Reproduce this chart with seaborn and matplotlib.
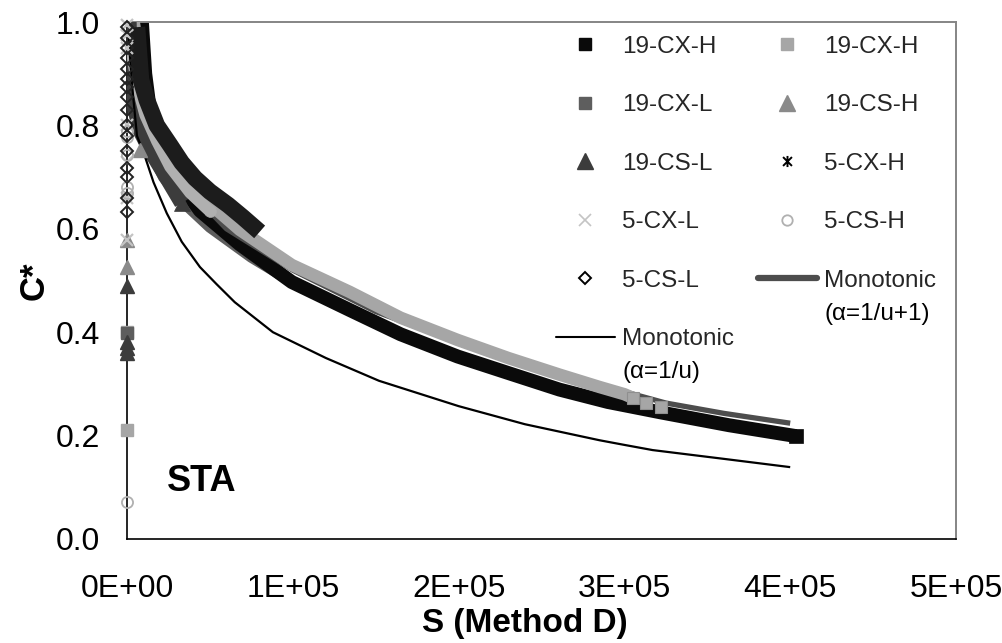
import matplotlib
matplotlib.use("Agg")
import matplotlib.pyplot as plt
from matplotlib.lines import Line2D
from matplotlib.path import Path
import seaborn as sns

sns.set_theme(style="white")
plt.rcParams['font.family'] = ['Liberation Sans', 'DejaVu Sans']

# ---------------- data ----------------
x_ticks = [0, 100000, 200000, 300000, 400000, 500000]
x_tick_labels = ["0E+00", "1E+05", "2E+05", "3E+05", "4E+05", "5E+05"]
y_ticks = [0.0, 0.2, 0.4, 0.6, 0.8, 1.0]
y_tick_labels = ["0.0", "0.2", "0.4", "0.6", "0.8", "1.0"]

# 19-CX-H (black squares) - long band
cxh_black_s = [9e3, 1.1e4, 1.5e4, 2.5e4, 4.4e4, 6.8e4, 9.94e4, 1.343e5, 1.65e5, 1.994e5, 2.3e5, 2.608e5, 2.9e5, 3.217e5, 3.632e5, 4.036e5]
cxh_black_c = [1.0, 0.90, 0.80, 0.72, 0.635, 0.57, 0.497, 0.443, 0.396, 0.353, 0.321, 0.289, 0.265, 0.245, 0.220, 0.199]

# 19-CX-H (grey squares)
cxh_grey_s = [0, 0, 4e3, 7.8e3, 1.08e4, 2.0e4, 3.2e4, 4.4e4, 6.8e4, 9.94e4, 1.343e5, 1.65e5, 1.994e5, 2.3e5, 2.608e5, 2.85e5, 3.0e5, 3.05e5, 3.13e5, 3.22e5]
cxh_grey_c = [0.211, 0.40, 1.0, 0.927, 0.83, 0.752, 0.704, 0.665, 0.598, 0.530, 0.478, 0.428, 0.385, 0.350, 0.318, 0.294, 0.280, 0.273, 0.263, 0.255]

# 19-CX-L (dark grey squares)
cxl_s = [0, 1.5e3, 4e3, 1e4, 2.2e4, 3.6e4, 5e4, 7.5e4, 1.05e5]
cxl_c = [0.398, 0.95, 0.86, 0.78, 0.70, 0.645, 0.603, 0.545, 0.487]

# 19-CS-H (grey triangles)
csh_s = [0, 0, 8e3]
csh_c = [0.526, 0.578, 0.752]

# 19-CS-L (dark triangles)
csl_s = [0, 0, 0, 0, 1.2e3, 1.8e3, 3.6e3, 7.8e3, 1.4e4, 2.3e4, 3.3e4]
csl_c = [0.49, 0.382, 0.37, 0.36, 1.0, 0.927, 0.849, 0.791, 0.752, 0.704, 0.65]

# 5-CX-H (black asterisks)
c5xh_s = [6e3, 8.4e3, 1.2e4, 1.8e4, 2.6e4, 3.3e4, 4.1e4, 5.0e4, 6.1e4, 7.0e4, 8.0e4]
c5xh_c = [0.99, 0.888, 0.849, 0.80, 0.762, 0.728, 0.698, 0.672, 0.646, 0.622, 0.594]

# 5-CX-L (light grey crosses)
c5xl_s = [0, 0, 0, 0, 0, 0, 0]
c5xl_c = [0.578, 0.66, 0.73, 0.80, 0.95, 0.975, 0.995]

# 5-CS-H (light grey open circles)
c5sh_pts_s = [0, 0, 0, 0, 0, 0]
c5sh_pts_c = [0.071, 0.67, 0.68, 0.743, 0.778, 0.79]
c5sh_band_s = [2.5e3, 6e3, 1.1e4, 1.8e4, 2.6e4, 3.8e4, 5.0e4]
c5sh_band_c = [0.95, 0.88, 0.82, 0.77, 0.72, 0.67, 0.634]

# 5-CS-L (open diamonds)
c5sl_s = [0] * 16
c5sl_c = [0.633, 0.66, 0.70, 0.717, 0.75, 0.78, 0.80, 0.83, 0.855, 0.875, 0.89, 0.91, 0.93, 0.95, 0.97, 0.99]

# Monotonic (alpha = 1/u + 1)
mono1_s = [3e3, 1e4, 3e4, 6e4, 1e5, 1.5e5, 2e5, 2.6e5, 3.25e5, 3.6e5, 4.0e5]
mono1_c = [0.95, 0.85, 0.70, 0.60, 0.52, 0.44, 0.38, 0.32, 0.263, 0.243, 0.224]

# Monotonic (alpha = 1/u)
mono2_s = [1e3, 3e3, 6e3, 1.08e4, 1.6e4, 2.4e4, 3.3e4, 4.4e4, 5.4e4, 6.5e4, 8.8e4, 1.2e5, 1.52e5, 2.0e5, 2.4e5, 2.85e5, 3.0e5, 3.17e5, 3.6e5, 4.0e5]
mono2_c = [0.97, 0.88, 0.78, 0.74, 0.69, 0.63, 0.575, 0.526, 0.493, 0.458, 0.400, 0.350, 0.306, 0.257, 0.222, 0.191, 0.182, 0.172, 0.155, 0.139]

labels = ["19-CX-H", "19-CX-H", "19-CX-L", "19-CS-H", "19-CS-L", "5-CX-H",
          "5-CX-L", "5-CS-H", "5-CS-L", "Monotonic", "Monotonic"]
second_lines = ["(α=1/u+1)", "(α=1/u)"]

# ---------------- styles ----------------
C_BLACK = "#0a0a0a"
C_GREY = "#a6a6a6"
C_CXL = "#5e5e5e"
C_CSH = "#8a8a8a"
C_CSL = "#3c3c3c"
C_5XH = "#1c1c1c"
C_5XL = "#c4c4c4"
C_5SH = "#b0b0b0"
C_MONO1 = "#4d4d4d"

ast = Path([(-1, -1), (1, 1), (-1, 1), (1, -1), (0, -1.25), (0, 1.25)],
           [Path.MOVETO, Path.LINETO, Path.MOVETO, Path.LINETO, Path.MOVETO, Path.LINETO])

W, H = 1003, 643
fig, ax = plt.subplots(figsize=(W / 100, H / 100), dpi=100)
fig.subplots_adjust(left=127 / W, right=956 / W, bottom=(H - 539) / H, top=(H - 22) / H)


def band(xs, ys, color, lw, marker, ms, z, every=None):
    sns.lineplot(x=xs, y=ys, ax=ax, color=color, linewidth=lw, marker=marker,
                 markersize=ms, mec=color, mfc=color, mew=0.5, sort=False,
                 markevery=every, estimator=None, legend=False, zorder=z,
                 solid_capstyle="butt", solid_joinstyle="round")


def pts(xs, ys, color, marker, ms, z, mfc=None, mew=1.0, mec=None, clip=False):
    sns.lineplot(x=xs, y=ys, ax=ax, color=color, linestyle="", marker=marker,
                 markersize=ms, mec=color if mec is None else mec,
                 mfc=color if mfc is None else mfc,
                 mew=mew, sort=False, estimator=None, legend=False, zorder=z,
                 clip_on=clip)


band(cxl_s[1:], cxl_c[1:], C_CXL, 8.0, None, 0, 1.9)
band(cxh_black_s, cxh_black_c, C_BLACK, 10, "s", 10, 2, every=[-1])
band(mono1_s, mono1_c, C_MONO1, 3.8, None, 0, 2.5)
band(cxh_grey_s[2:-2], cxh_grey_c[2:-2], C_GREY, 9.0, None, 0, 3)
pts(cxh_grey_s[-3:], cxh_grey_c[-3:], C_GREY, "s", 9.0, 3.1, mec="#8f8f8f", mew=0.8, clip=True)
band(csl_s[4:], csl_c[4:], C_CSL, 11, "^", 12, 4, every=[-1])
band(c5sh_band_s, c5sh_band_c, C_5SH, 8.5, "o", 8.5, 4.5, every=[-1])
band(c5xh_s, c5xh_c, C_5XH, 12, None, 0, 5)
band(mono2_s, mono2_c, "black", 1.6, None, 0, 6)

pts(cxh_grey_s[:2], cxh_grey_c[:2], C_GREY, "s", 8.6, 7)
pts(cxl_s[:1], cxl_c[:1], C_CXL, "s", 8.6, 7)
pts(csh_s, csh_c, C_CSH, "^", 9.5, 7)
pts(csl_s[:4], csl_c[:4], C_CSL, "^", 9.5, 7)
pts(c5xl_s, c5xl_c, C_5XL, "x", 8, 7, mew=1.6)
pts(c5sh_pts_s, c5sh_pts_c, C_5SH, "o", 8, 7.5, mfc="none", mew=1.3)
pts(c5sl_s, c5sl_c, "#222222", "D", 6.5, 8, mfc="none", mew=1.4)

# ---------------- axes ----------------
ax.set_xlim(0, 500000)
ax.set_ylim(0, 1.0)
ax.set_xticks(x_ticks)
ax.set_xticklabels(x_tick_labels)
ax.set_yticks(y_ticks)
ax.set_yticklabels(y_tick_labels)
ax.tick_params(axis="both", direction="in", length=8, width=1, color="black",
               labelsize=23, labelcolor="black")
ax.tick_params(axis="x", pad=25)
ax.tick_params(axis="y", pad=19.5)
for side in ["left", "bottom"]:
    ax.spines[side].set_color("black")
    ax.spines[side].set_linewidth(1.2)
for side in ["top", "right"]:
    ax.spines[side].set_color("#858585")
    ax.spines[side].set_linewidth(1.4)

ax.set_xlabel("S (Method D)", fontsize=24, fontweight="bold", color="black")
ax.set_ylabel("C*", fontsize=25, fontweight="bold", color="black")
ax.xaxis.set_label_coords(0.48, -0.134)
ax.yaxis.set_label_coords(-0.092, 0.50)

ax.text(2.4e4, 0.112, "STA", fontsize=26, fontweight="bold", ha="left", va="center", color="black")

# ---------------- legend ----------------
handles = [
    Line2D([], [], ls="", marker="s", ms=8.5, color=C_BLACK),
    Line2D([], [], ls="", marker="s", ms=8.5, color=C_GREY),
    Line2D([], [], ls="", marker="s", ms=8.5, color=C_CXL),
    Line2D([], [], ls="", marker="^", ms=11, color=C_CSH),
    Line2D([], [], ls="", marker="^", ms=11, color=C_CSL),
    Line2D([], [], ls="", marker=ast, ms=8, color="black", mew=1.4),
    Line2D([], [], ls="", marker="x", ms=9, color=C_5XL, mew=1.2),
    Line2D([], [], ls="", marker="o", ms=7.5, mfc="none", mec=C_5SH, mew=1.3),
    Line2D([], [], ls="", marker="D", ms=6.5, mfc="none", mec="black", mew=1.4),
    Line2D([], [], color=C_MONO1, lw=4.5),
    Line2D([], [], color="black", lw=1.5),
]
order = [0, 2, 4, 6, 8, 10, 1, 3, 5, 7, 9]
leg = ax.legend([handles[i] for i in order], [labels[i] for i in order],
                ncol=2, loc="upper left", bbox_to_anchor=(0.517, 0.973),
                frameon=False, fontsize=17.5, borderpad=0, borderaxespad=0,
                handlelength=2.45, handletextpad=0.3, columnspacing=0.95,
                labelspacing=1.5)

fig.canvas.draw()
renderer = fig.canvas.get_renderer()
texts = leg.get_texts()
for idx, extra in [(10, second_lines[0]), (5, second_lines[1])]:
    bb = texts[idx].get_window_extent(renderer)
    fig.text(bb.x0 / W, (bb.y0 - 33) / H, extra, fontsize=17.5, ha="left", va="bottom", color="black")

fig.savefig("out.png", dpi=100)
